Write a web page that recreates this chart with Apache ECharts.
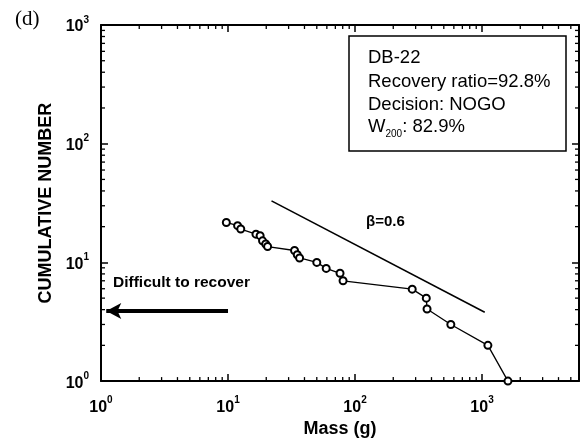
<!DOCTYPE html>
<html>
<head>
<meta charset="utf-8">
<script src="https://cdn.jsdelivr.net/npm/echarts@6/dist/echarts.min.js"></script>
<style>
html, body { margin: 0; padding: 0; background: #fff; }
#main { width: 582px; height: 443px; }
</style>
</head>
<body>
<div id="main"></div>
<script>
// cumulative number vs. mass
var massG = [9.7, 11.9, 12.6, 16.6, 17.9, 18.7, 19.8, 20.5, 33.4, 35.1, 36.6, 50.0, 59.3, 76.2, 80.5, 282, 364, 369, 568, 1112, 1600];
var cumNumber = [21.7, 20.4, 19.1, 17.3, 16.8, 15.2, 14.3, 13.6, 12.6, 11.6, 10.9, 10.0, 8.9, 8.1, 7.0, 5.95, 5.0, 4.05, 3.0, 2.0, 1.0];

// reference slope line (beta = 0.6)
var betaX = [22, 1050];
var betaY = [33, 3.8];

// "difficult to recover" arrow, from x=10 back to the left axis
var arrowX = [10, 1.1];
var arrowY = 3.9;

var xRange = [1, 5800];
var yRange = [1, 1000];

var boxLines = ['DB-22', 'Recovery ratio=92.8%', 'Decision: NOGO', '82.9%'];

var myChart = echarts.init(document.getElementById('main'));

function powLabel(v) {
  var e = Math.round(Math.log10(v));
  if (Math.abs(Math.pow(10, e) - v) > 1e-6 * v) return '';
  return '{b|10}{s|' + e + '}';
}

var labelRich = {
  b: { fontSize: 16, fontWeight: 'bold', fontFamily: 'Liberation Sans', color: '#000', lineHeight: 20, verticalAlign: 'bottom' },
  s: { fontSize: 10, fontWeight: 'bold', fontFamily: 'Liberation Sans', color: '#000', lineHeight: 10, verticalAlign: 'top' }
};

// minor tick positions 2..9 x 10^k
function minorTicks(r) {
  var out = [];
  for (var k = 0; k < 4; k++) {
    for (var m = 2; m <= 9; m++) {
      var v = m * Math.pow(10, k);
      if (v > r[0] && v < r[1]) out.push(v);
    }
  }
  return out;
}

var xMinor = minorTicks(xRange).map(function (v) { return [v, 1]; });
var yMinor = minorTicks(yRange).map(function (v) { return [1, v]; });

function tickX(params, api) {
  var p = api.coord([api.value(0), api.value(1)]);
  var cs = params.coordSys;
  var st = { stroke: '#000', lineWidth: 1.3 };
  return {
    type: 'group',
    children: [
      { type: 'line', shape: { x1: p[0], y1: cs.y + cs.height, x2: p[0], y2: cs.y + cs.height - 4 }, style: st },
      { type: 'line', shape: { x1: p[0], y1: cs.y, x2: p[0], y2: cs.y + 4 }, style: st }
    ]
  };
}

function tickY(params, api) {
  var p = api.coord([api.value(0), api.value(1)]);
  var cs = params.coordSys;
  var st = { stroke: '#000', lineWidth: 1.3 };
  return {
    type: 'group',
    children: [
      { type: 'line', shape: { x1: cs.x, y1: p[1], x2: cs.x + 4, y2: p[1] }, style: st },
      { type: 'line', shape: { x1: cs.x + cs.width, y1: p[1], x2: cs.x + cs.width - 4, y2: p[1] }, style: st }
    ]
  };
}

var axisLine = { show: true, lineStyle: { color: '#000', width: 2 } };
var majorTick = { show: true, inside: true, length: 7, lineStyle: { color: '#000', width: 1.5 } };
var nameStyle = { fontSize: 18, fontWeight: 'bold', fontFamily: 'Liberation Sans', color: '#000' };

option = {
  backgroundColor: '#fff',
  animation: false,
  grid: { left: 101, top: 25, right: 2, bottom: 60 },
  xAxis: [{
    type: 'log', logBase: 10, min: xRange[0], max: xRange[1], splitNumber: 4,
    position: 'bottom',
    name: 'Mass (g)', nameLocation: 'middle', nameGap: 38,
    nameTextStyle: nameStyle,
    axisLine: axisLine, axisTick: majorTick, splitLine: { show: false },
    axisLabel: { margin: 14, formatter: powLabel, rich: labelRich }
  }, {
    type: 'log', logBase: 10, min: xRange[0], max: xRange[1], splitNumber: 4,
    position: 'top',
    axisLine: axisLine, axisTick: majorTick, splitLine: { show: false },
    axisLabel: { show: false }
  }],
  yAxis: [{
    type: 'log', logBase: 10, min: yRange[0], max: yRange[1], splitNumber: 3,
    position: 'left',
    name: 'CUMULATIVE NUMBER', nameLocation: 'middle', nameGap: 46,
    nameTextStyle: nameStyle,
    axisLine: axisLine, axisTick: majorTick, splitLine: { show: false },
    axisLabel: { margin: 12, formatter: powLabel, rich: labelRich }
  }, {
    type: 'log', logBase: 10, min: yRange[0], max: yRange[1], splitNumber: 3,
    position: 'right',
    axisLine: axisLine, axisTick: majorTick, splitLine: { show: false },
    axisLabel: { show: false }
  }],
  series: [{
    type: 'custom', renderItem: tickX, data: xMinor, silent: true, clip: false,
    encode: { x: 0, y: 1 }
  }, {
    type: 'custom', renderItem: tickY, data: yMinor, silent: true, clip: false,
    encode: { x: 0, y: 1 }
  }, {
    type: 'line',
    data: betaX.map(function (x, i) { return [x, betaY[i]]; }),
    symbol: 'none',
    lineStyle: { color: '#000', width: 1.6 }
  }, {
    type: 'line',
    data: massG.map(function (x, i) { return [x, cumNumber[i]]; }),
    symbol: 'emptyCircle', symbolSize: 7,
    lineStyle: { color: '#000', width: 1.3 },
    itemStyle: { color: '#000', borderWidth: 1.6 },
    clip: false,
    markLine: {
      silent: true,
      symbol: ['none', 'arrow'],
      symbolSize: [12, 15],
      label: { show: false },
      lineStyle: { color: '#000', width: 4, type: 'solid' },
      data: [[{ coord: [arrowX[0], arrowY] }, { coord: [arrowX[1], arrowY] }]]
    }
  }],
  graphic: [{
    type: 'text', left: 15, top: 9,
    style: { text: '(d)', font: '21px "Liberation Serif"', fill: '#000' }
  }, {
    type: 'text', x: 113, y: 283,
    style: { text: 'Difficult to recover', font: 'bold 15.5px "Liberation Sans"', fill: '#000', verticalAlign: 'middle' }
  }, {
    type: 'text', x: 366, y: 222,
    style: { text: 'β=0.6', font: 'bold 15px "Liberation Sans"', fill: '#000', verticalAlign: 'middle' }
  }, {
    type: 'rect',
    shape: { x: 349, y: 36, width: 217, height: 115 },
    style: { fill: '#fff', stroke: '#000', lineWidth: 1.5 }
  }, {
    type: 'text', x: 368, y: 58,
    style: { text: boxLines[0], font: '18.5px "Liberation Sans"', fill: '#000', verticalAlign: 'middle' }
  }, {
    type: 'text', x: 368, y: 82,
    style: { text: boxLines[1], font: '18.5px "Liberation Sans"', fill: '#000', verticalAlign: 'middle' }
  }, {
    type: 'text', x: 368, y: 105,
    style: { text: boxLines[2], font: '18.5px "Liberation Sans"', fill: '#000', verticalAlign: 'middle' }
  }, {
    type: 'text', x: 368, y: 128,
    style: {
      text: '{w|W}{sub|200}{w|: ' + boxLines[3] + '}',
      verticalAlign: 'middle',
      rich: {
        w: { fontSize: 18.5, fontFamily: 'Liberation Sans', color: '#000', lineHeight: 22, verticalAlign: 'top' },
        sub: { fontSize: 10, fontFamily: 'Liberation Sans', color: '#000', lineHeight: 10, verticalAlign: 'bottom' }
      }
    }
  }]
};

myChart.setOption(option);
</script>
</body>
</html>
